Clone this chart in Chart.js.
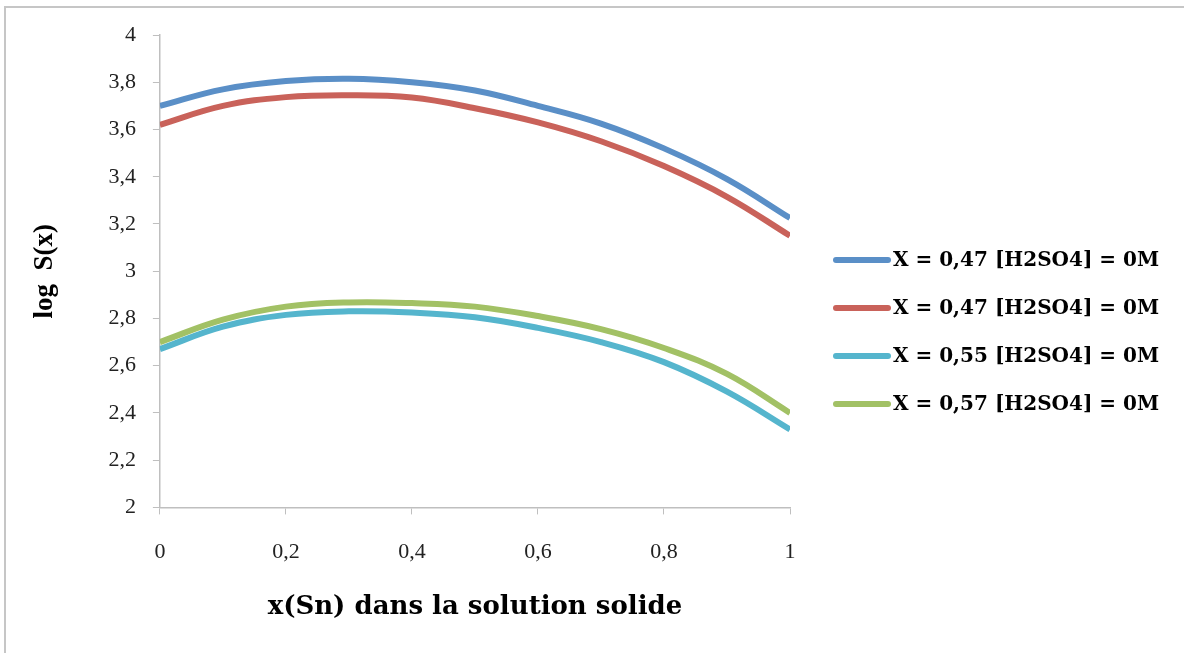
<!DOCTYPE html>
<html>
<head>
<meta charset="utf-8">
<script src="https://cdn.jsdelivr.net/npm/chart.js@4/dist/chart.umd.min.js"></script>
<style>
  body { margin: 0; background: #fff; }
  #frame { position: absolute; left: 4px; top: 6px; right: 0; bottom: 0;
           border-top: 2px solid #c6c6c6; border-left: 2px solid #c6c6c6; }
  #wrap { position: absolute; left: 0; top: 0; width: 1184px; height: 653px; }
</style>
</head>
<body>
<div id="frame"></div>
<div id="wrap"><canvas id="chart"></canvas></div>
<script>
// x(Sn) in the solid solution
const xSn = [0, 0.1, 0.2, 0.3, 0.4, 0.5, 0.6, 0.7, 0.8, 0.9, 1];

// log S(x) for each series
const logS_047a = [3.70, 3.77, 3.805, 3.815, 3.80, 3.765, 3.70, 3.625, 3.52, 3.39, 3.225];
const logS_047b = [3.62, 3.70, 3.737, 3.745, 3.735, 3.69, 3.63, 3.55, 3.445, 3.315, 3.15];
const logS_055  = [2.67, 2.765, 2.815, 2.83, 2.825, 2.805, 2.76, 2.70, 2.615, 2.49, 2.33];
const logS_057  = [2.70, 2.795, 2.85, 2.868, 2.865, 2.85, 2.81, 2.755, 2.675, 2.565, 2.40];

const seriesLabels = [
    "X = 0,47 [H2SO4] = 0M",
    "X = 0,47 [H2SO4] = 0M",
    "X = 0,55 [H2SO4] = 0M",
    "X = 0,57 [H2SO4] = 0M"
];
const seriesColors = ["#5a8fc7", "#c9625a", "#55b5cd", "#a2c165"];
const seriesValues = [logS_047a, logS_047b, logS_055, logS_057];

const xTicks = { min: 0, max: 1, step: 0.2 };
const yTicks = { min: 2, max: 4, step: 0.2 };

const serif = "'Liberation Serif', serif";
const wideSerif = "'DejaVu Serif', serif";
const axisGrey = "#bfbfbf";

// comma as decimal separator
const fmt = v => String(Math.round(v * 10) / 10).replace(".", ",");

// legend on the right: line sample + bold label, one row per series
const sideLegend = {
    id: "sideLegend",
    afterDraw(chart) {
        const ctx = chart.ctx;
        const x0 = 836, lineLen = 52, top = 260, rowGap = 48;
        ctx.save();
        ctx.font = "bold 20px " + wideSerif;
        ctx.textBaseline = "middle";
        ctx.textAlign = "left";
        chart.data.datasets.forEach((ds, i) => {
            const y = top + i * rowGap;
            ctx.strokeStyle = ds.borderColor;
            ctx.lineWidth = 6;
            ctx.lineCap = "round";
            ctx.beginPath();
            ctx.moveTo(x0, y);
            ctx.lineTo(x0 + lineLen, y);
            ctx.stroke();
            ctx.fillStyle = "#000";
            ctx.fillText(ds.label, x0 + lineLen + 5, y + 1);
        });
        ctx.restore();
    }
};

const datasets = seriesValues.map((vals, i) => ({
    label: seriesLabels[i],
    data: xSn.map((x, j) => ({ x, y: vals[j] })),
    borderColor: seriesColors[i],
    backgroundColor: seriesColors[i],
    borderWidth: 6,
    pointRadius: 0,
    tension: 0.4,
    order: seriesValues.length - i
}));

new Chart(document.getElementById("chart"), {
    type: "line",
    data: { datasets },
    plugins: [sideLegend],
    options: {
        responsive: true,
        maintainAspectRatio: false,
        animation: false,
        layout: { padding: { top: 35, left: 25, right: 394, bottom: 26 } },
        plugins: {
            tooltip: { enabled: false },
            legend: { display: false }
        },
        scales: {
            x: {
                type: "linear",
                min: xTicks.min,
                max: xTicks.max,
                ticks: { stepSize: xTicks.step, callback: fmt, color: "#222",
                         font: { family: serif, size: 22 }, padding: 25 },
                grid: { drawOnChartArea: false, tickLength: 7, color: axisGrey },
                border: { color: axisGrey, width: 1.5 },
                title: { display: true, text: "x(Sn) dans la solution solide", color: "#000",
                         font: { family: wideSerif, size: 26, weight: "bold" }, padding: { top: 1 } }
            },
            y: {
                min: yTicks.min,
                max: yTicks.max,
                ticks: { stepSize: yTicks.step, callback: fmt, color: "#222",
                         font: { family: serif, size: 22 }, padding: 17 },
                grid: { drawOnChartArea: false, tickLength: 7, color: axisGrey },
                border: { color: axisGrey, width: 1.5 },
                title: { display: true, text: "log  S(x)", color: "#000",
                         font: { family: serif, size: 27, weight: "bold" }, padding: { bottom: 30 } }
            }
        }
    }
});
</script>
</body>
</html>
